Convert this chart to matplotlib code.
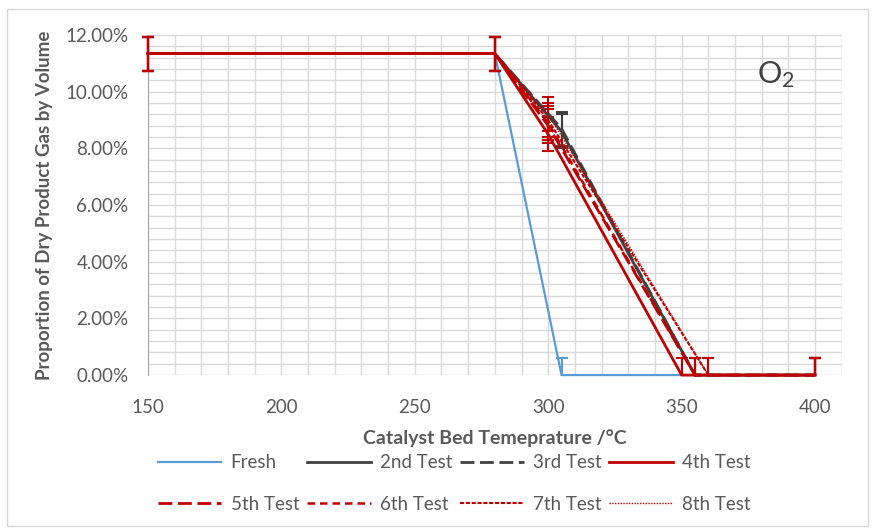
import matplotlib
matplotlib.use('Agg')
import matplotlib.pyplot as plt
from matplotlib.patches import Rectangle
from matplotlib.ticker import MultipleLocator, PercentFormatter
from matplotlib.transforms import Bbox, TransformedBbox

plt.rcParams['font.family'] = ['Lato', 'DejaVu Sans']

# O2 readings (volume fraction) against bed temperature for each catalyst run
fresh_t = [150, 280, 305, 400]
fresh_o2 = [0.1135, 0.1135, 0.0, 0.0]

test_names = ['2nd Test', '3rd Test', '4th Test', '5th Test',
              '6th Test', '7th Test', '8th Test']
test_t = [
    [150, 280, 305, 355, 400],
    [150, 280, 305, 355, 400],
    [150, 280, 300, 350, 400],
    [150, 280, 300, 355, 400],
    [150, 280, 300, 355, 400],
    [150, 280, 300, 360, 400],
    [150, 280, 300, 360, 400],
]
test_o2 = [
    [0.1135, 0.1135, 0.086, 0.0, 0.0],
    [0.1135, 0.1135, 0.087, 0.0, 0.0],
    [0.1135, 0.1135, 0.085, 0.0, 0.0],
    [0.1135, 0.1135, 0.088, 0.0, 0.0],
    [0.1135, 0.1135, 0.089, 0.0, 0.0],
    [0.1135, 0.1135, 0.090, 0.0, 0.0],
    [0.1135, 0.1135, 0.092, 0.0, 0.0],
]
o2_error = 0.006

blue = '#5b9bd5'
grey = '#404040'
red = '#c00000'
test_styles = [
    (grey, '-', 2.0),
    (grey, (0, (5, 2)), 2.0),
    (red, '-', 2.0),
    (red, (0, (5, 2)), 2.0),
    (red, (0, (3, 2)), 1.8),
    (red, (0, (2, 0.8)), 1.5),
    (red, (0, (1, 1)), 1.0),
]

fig = plt.figure(figsize=(8.75, 5.32), dpi=100)
fig.patches.append(Rectangle((0.008, 0.012), 0.984, 0.972, transform=fig.transFigure,
                             fill=False, edgecolor='#d9d9d9', linewidth=1))
ax = fig.add_axes([0.169, 0.295, 0.793, 0.639])

# error bars may spill sideways past the axis, but not below zero
bar_clip = TransformedBbox(Bbox([[-0.03, 0], [1.03, 1]]), ax.transAxes)


def draw_series(t, o2, color, ls, lw, z):
    line, caps, bars = ax.errorbar(t, o2, yerr=o2_error, color=color, linestyle=ls,
                                   linewidth=lw, elinewidth=1.5, capsize=4.5,
                                   capthick=1.5, zorder=z)
    line.set_clip_on(False)
    for art in list(caps) + list(bars):
        art.set_clip_box(bar_clip)
    return line


handles = {}
handles['Fresh'] = draw_series(fresh_t, fresh_o2, blue, '-', 1.6, 3)
for name, t, o2, (c, ls, lw) in zip(test_names, test_t, test_o2, test_styles):
    handles[name] = draw_series(t, o2, c, ls, lw, 4)

ax.set_xlim(150, 410)
ax.set_ylim(0, 0.12)
ax.xaxis.set_major_locator(MultipleLocator(50))
ax.xaxis.set_minor_locator(MultipleLocator(10))
ax.yaxis.set_major_locator(MultipleLocator(0.02))
ax.yaxis.set_minor_locator(MultipleLocator(0.004))
ax.yaxis.set_major_formatter(PercentFormatter(1, decimals=2))
ax.grid(True, which='both', color='#d9d9d9', linewidth=1)
ax.set_axisbelow(True)
ax.tick_params(which='both', length=0, labelsize=13.5, labelcolor='#595959')
ax.tick_params(axis='x', pad=17)
ax.tick_params(axis='y', pad=14)
for side in ['top', 'right', 'bottom']:
    ax.spines[side].set_visible(False)
ax.spines['left'].set_color('#a6a6a6')

ax.set_xlabel('Catalyst Bed Temeprature /°C', fontsize=14, fontweight='bold',
              color='#595959', labelpad=10)
ax.set_ylabel('Proportion of Dry Product Gas by Volume', fontsize=13.5,
              fontweight='bold', color='#595959', labelpad=9)

ax.text(0.905, 0.885, r'O$\mathregular{_2}$', transform=ax.transAxes,
        fontsize=22, color='#404040', ha='center', va='center')

# legend is filled column-first, so interleave the two rows
order = ['Fresh', '5th Test', '2nd Test', '6th Test',
         '3rd Test', '7th Test', '4th Test', '8th Test']
fig.legend([handles[k] for k in order], order, loc='center',
           bbox_to_anchor=(0.519, 0.091), ncol=4, frameon=False, fontsize=13.5,
           labelcolor='#595959', handlelength=3.4, columnspacing=0.4,
           handletextpad=0.5, labelspacing=1.3)

plt.savefig('out.png', dpi=100)
